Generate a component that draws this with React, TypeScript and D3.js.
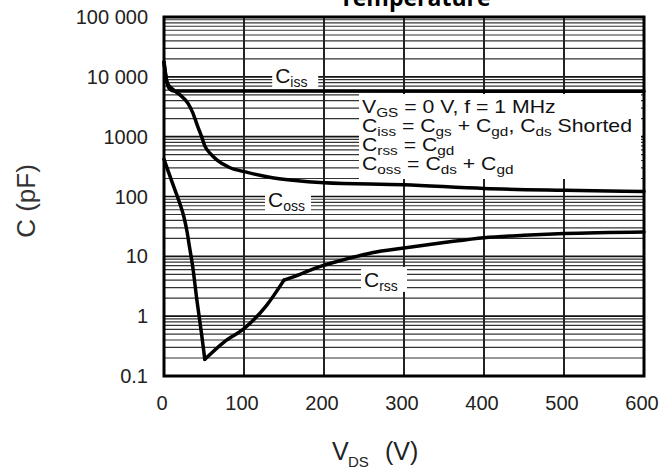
import React from 'react';
import * as d3 from 'd3';

// axis ticks
const vdsTicks = [0, 100, 200, 300, 400, 500, 600];
const capTicks = [0.1, 1, 10, 100, 1000, 10000, 100000];
const capTickLabels = ['0.1', '1', '10', '100', '1000', '10 000', '100 000'];

// Ciss (pF) vs VDS (V)
const cissV = [0, 2, 4, 7, 12, 600];
const cissC = [17900, 11000, 7800, 6300, 5800, 5750];

// Coss (pF) vs VDS (V)
const cossV = [0, 4, 12, 20, 30, 36, 42, 47, 51, 58, 66, 82, 103, 132, 161, 200, 300, 400, 500, 600];
const cossC = [17500, 8000, 6000, 5000, 3600, 2500, 1500, 1000, 700, 520, 410, 305, 255, 210, 187, 170, 157, 136, 127, 121];

// Crss (pF) vs VDS (V), with kinks at 51 V and 150 V
const crssV = [0, 5, 10, 15, 20, 25, 29, 32, 36, 41, 47, 51, 75, 100, 128, 150, 170, 190, 225, 260, 300, 350, 400, 450, 500, 600];
const crssC = [420, 270, 175, 115, 75, 45, 25, 14, 6.6, 1.9, 0.5, 0.19, 0.37, 0.62, 1.5, 4.0, 5.0, 6.4, 8.8, 11.5, 13.8, 17, 20.5, 22.5, 24, 25.5];
const crssKinks = [51, 150];

const lineLabels = [
  { main: 'C', sub: 'iss', v: 164, c: 10800 },
  { main: 'C', sub: 'oss', v: 155, c: 91 },
  { main: 'C', sub: 'rss', v: 275, c: 4.2 },
];

// [text, isSubscript]
const legendLines: [string, boolean][][] = [
  [['V', false], ['GS', true], [' = 0 V, f = 1 MHz', false]],
  [['C', false], ['iss', true], [' = C', false], ['gs', true], [' + C', false], ['gd', true], [', C', false], ['ds', true], [' Shorted', false]],
  [['C', false], ['rss', true], [' = C', false], ['gd', true]],
  [['C', false], ['oss', true], [' = C', false], ['ds', true], [' + C', false], ['gd', true]],
];

const W = 670;
const H = 472;
const plot = { left: 164, right: 644, top: 17, bottom: 376 };
const FONT = '"Liberation Sans", Arial, Helvetica, sans-serif';

const App = () => {
  const x = d3.scaleLinear().domain([0, 600]).range([plot.left, plot.right]);
  const y = d3.scaleLog().domain([0.1, 100000]).range([plot.bottom, plot.top]);

  const smooth = d3.line<[number, number]>()
    .x(d => x(d[0]))
    .y(d => y(d[1]))
    .curve(d3.curveMonotoneX);

  const pts = (vs: number[], cs: number[]) => vs.map((v, i) => [v, cs[i]] as [number, number]);

  // split Crss at the kinks so the corners stay sharp
  const crssPts = pts(crssV, crssC);
  const crssPieces: [number, number][][] = [];
  let cur: [number, number][] = [];
  crssPts.forEach(p => {
    cur.push(p);
    if (crssKinks.includes(p[0])) {
      crssPieces.push(cur);
      cur = [p];
    }
  });
  crssPieces.push(cur);

  // minor grid lines 2..9 per decade
  const minor: number[] = [];
  for (let e = -1; e < 5; e++) {
    for (let k = 2; k <= 9; k++) minor.push(k * Math.pow(10, e));
  }

  const curveStyle = { fill: 'none', stroke: '#000', strokeWidth: 3.5, strokeLinejoin: 'round' as const, strokeLinecap: 'round' as const };

  return (
    <svg width={W} height={H} style={{ position: 'absolute', left: 0, top: 0, background: '#fff' }} fontFamily={FONT}>
      <rect width={W} height={H} fill="#fff" />

      {/* title, cut at the top like the source */}
      <text x={415} y={6} textAnchor="middle" fontFamily='"Open Sans", sans-serif' fontWeight="bold" fontSize={23} fill="#000">Temperature</text>

      {/* grid */}
      {minor.map(v => (
        <line key={'m' + v} x1={plot.left} x2={plot.right} y1={y(v)} y2={y(v)} stroke="#333" strokeWidth={1.2} />
      ))}
      {capTicks.map(v => (
        <line key={'M' + v} x1={plot.left} x2={plot.right} y1={y(v)} y2={y(v)} stroke="#111" strokeWidth={1.6} />
      ))}
      {vdsTicks.slice(1, -1).map(v => (
        <line key={'v' + v} x1={x(v)} x2={x(v)} y1={plot.top} y2={plot.bottom} stroke="#222" strokeWidth={2} />
      ))}

      {/* legend box */}
      <rect x={359} y={94} width={282} height={85} fill="#fff" />
      <g transform="translate(362,0) scale(1.18,1)" fontSize={18} fill="#111">
        {legendLines.map((line, li) => (
          <text key={li} x={0} y={113 + li * 19} style={{ whiteSpace: 'pre' }}>
            {line.map(([t, sub], i) => {
              const prevSub = i > 0 && line[i - 1][1];
              const dy = sub && !prevSub ? 4 : !sub && prevSub ? -4 : 0;
              return (
                <tspan key={i} dy={dy} fontSize={sub ? 13 : 18}>{t}</tspan>
              );
            })}
          </text>
        ))}
      </g>

      {/* curve labels */}
      {lineLabels.map(l => {
        const cx = x(l.v);
        const cy = y(l.c);
        return (
          <g key={l.sub}>
            <rect x={cx - 23} y={cy - 12} width={46} height={25} fill="#fff" />
            <text x={cx - 20} y={cy + 8} fontSize={21} fill="#111">
              {l.main}
              <tspan fontSize={14} dy={4}>{l.sub}</tspan>
            </text>
          </g>
        );
      })}

      {/* curves */}
      <path d={smooth(pts(cissV, cissC)) || ''} style={curveStyle} />
      <path d={smooth(pts(cossV, cossC)) || ''} style={curveStyle} />
      {crssPieces.map((p, i) => (
        <path key={i} d={smooth(p) || ''} style={curveStyle} />
      ))}

      {/* frame */}
      <rect x={plot.left} y={plot.top} width={plot.right - plot.left} height={plot.bottom - plot.top} fill="none" stroke="#000" strokeWidth={3} />

      {/* y tick labels */}
      {capTicks.map((v, i) => (
        <text key={'yl' + v} x={148} y={y(v) + 7} textAnchor="end" fontSize={20} fill="#222">{capTickLabels[i]}</text>
      ))}
      {/* x tick labels */}
      {vdsTicks.map(v => (
        <text key={'xl' + v} x={x(v) - 2} y={410} textAnchor="middle" fontSize={20} fill="#222">{v}</text>
      ))}

      {/* axis titles */}
      <text transform="translate(35,201) rotate(-90)" textAnchor="middle" fontSize={26} fill="#333">C (pF)</text>
      <text x={332} y={460} fontSize={25} fill="#222">V</text>
      <text x={348} y={467} fontSize={15} fill="#222">DS</text>
      <text x={385} y={460} fontSize={25} fill="#222">(V)</text>
    </svg>
  );
};

export default App;
